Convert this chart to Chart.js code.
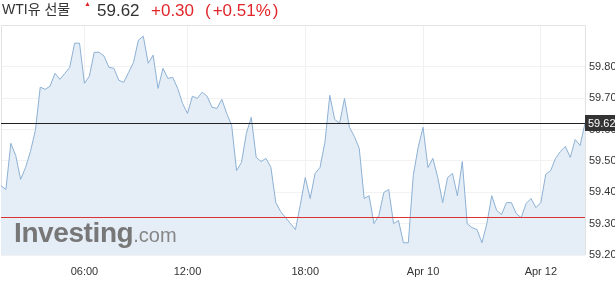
<!DOCTYPE html>
<html><head><meta charset="utf-8">
<script src="https://cdn.jsdelivr.net/npm/chart.js@4.4.1/dist/chart.umd.min.js"></script>
<style>
html,body{margin:0;padding:0;background:#fff;width:615px;height:290px;overflow:hidden;font-family:Arial,"Liberation Sans","Noto Sans CJK KR",sans-serif;}
#wrap{position:relative;width:615px;height:290px;}
#c{position:absolute;left:0;top:0;}
.h{position:absolute;white-space:nowrap;line-height:1;}
#name{left:2px;top:2px;font-size:14px;color:#333;font-family:Arial,"Liberation Sans","Noto Sans CJK KR",sans-serif;}
#mark{left:84px;top:0px;font-size:7px;color:#e0262b;}
#price{left:97px;top:2px;font-size:17px;color:#333;}
#chg{left:151px;top:2px;font-size:17px;color:#e0262b;}
#pct{left:203px;top:2px;font-size:17px;color:#e0262b;}
#pct i{font-style:normal;padding:0 2px;}
#wm{position:absolute;left:14px;top:219px;white-space:nowrap;color:#777;line-height:1;}
#wm b{font-size:28px;font-weight:bold;letter-spacing:-0.4px;}
#wm span{font-size:20px;color:#868686;}
</style>
</head><body>
<div id="wrap">
<canvas id="c" width="615" height="290"></canvas>
<div class="h" id="name">WTI유 선물</div>
<div class="h" id="mark">▲</div>
<div class="h" id="price">59.62</div>
<div class="h" id="chg">+0.30</div>
<div class="h" id="pct"><i>(</i>+0.51%<i>)</i></div>
<div id="wm"><b>Investing</b><span>.com</span></div>
</div>
<script>
const prices = [
59.421,59.409,59.556,59.517,59.441,59.479,59.530,59.597,59.735,59.728,
59.738,59.779,59.760,59.779,59.798,59.875,59.875,59.747,59.770,59.846,
59.846,59.834,59.798,59.795,59.757,59.750,59.782,59.814,59.885,59.897,
59.811,59.837,59.731,59.795,59.763,59.766,59.731,59.683,59.651,59.706,
59.699,59.719,59.706,59.671,59.667,59.696,59.651,59.613,59.469,59.495,
59.588,59.639,59.511,59.498,59.508,59.479,59.367,59.338,59.319,59.300,
59.281,59.361,59.447,59.380,59.460,59.479,59.559,59.709,59.632,59.620,
59.699,59.607,59.578,59.540,59.380,59.389,59.300,59.326,59.399,59.409,
59.300,59.310,59.239,59.239,59.453,59.543,59.607,59.479,59.508,59.447,
59.367,59.447,59.460,59.389,59.498,59.300,59.287,59.281,59.239,59.300,
59.389,59.342,59.329,59.367,59.367,59.332,59.319,59.364,59.380,59.351,
59.367,59.457,59.469,59.508,59.530,59.546,59.511,59.568,59.549,59.620
];
const xTickIndex = [17,38,62,86,110];
const xTickLabels = ['06:00','12:00','18:00','Apr 10','Apr 12'];
const yTickValues = [59.20,59.30,59.40,59.50,59.60,59.70,59.80];
const yMin = 59.20, yMax = 59.933;
const lastPrice = 59.62;
const prevClose = 59.32;

const overlay = {
  id:'overlay',
  beforeDatasetsDraw(chart){
    const {ctx, chartArea:a} = chart;
    ctx.save();
    ctx.strokeStyle='#e2e2e2'; ctx.lineWidth=1;
    ctx.beginPath();
    ctx.moveTo(a.left+0.5,a.bottom); ctx.lineTo(a.left+0.5,a.top+0.5);
    ctx.lineTo(a.right+0.5,a.top+0.5); ctx.lineTo(a.right+0.5,a.bottom);
    ctx.stroke();
    ctx.restore();
  },
  afterDatasetsDraw(chart){
    const {ctx, chartArea:a, scales:{y}} = chart;
    const yr = Math.round(y.getPixelForValue(prevClose));
    const yb = Math.round(y.getPixelForValue(lastPrice));
    ctx.save();
    ctx.fillStyle='#dc3232';
    ctx.fillRect(a.left, yr, a.right-a.left, 1);
    ctx.fillStyle='#222222';
    ctx.fillRect(a.left, yb, a.right-a.left, 1);
    ctx.restore();
  },
  afterDraw(chart){
    const {ctx, chartArea:a, scales:{y}} = chart;
    const yb = y.getPixelForValue(lastPrice);
    ctx.save();
    ctx.fillStyle='#333';
    ctx.fillRect(a.right, Math.round(yb)-8, 615-a.right, 16);
    ctx.fillStyle='#fff';
    ctx.font='11px Arial, "Liberation Sans", sans-serif';
    ctx.textBaseline='middle';
    ctx.fillText(lastPrice.toFixed(2), a.right+3, Math.round(yb)+0.5);
    ctx.restore();
  }
};

new Chart(document.getElementById('c'), {
  type:'line',
  data:{datasets:[{
    data: prices.map((p,i)=>({x:i,y:p})),
    borderColor:'#8db1d4',
    borderWidth:1,
    backgroundColor:'#e5edf6',
    fill:'start',
    pointRadius:0,
    tension:0
  }]},
  options:{
    responsive:false, animation:false, devicePixelRatio:1,
    layout:{padding:{top:25,left:1,right:0,bottom:0}},
    plugins:{legend:{display:false},tooltip:{enabled:false}},
    scales:{
      x:{type:'linear',min:0,max:prices.length-1,
        afterBuildTicks(s){ s.ticks = xTickIndex.map(v=>({value:v})); },
        afterFit(s){ s.height=35; },
        border:{display:false},
        grid:{color:'#f0f0f0',drawTicks:false},
        ticks:{autoSkip:false,maxRotation:0,padding:10,color:'#333',
          font:{family:'Arial, "Liberation Sans", sans-serif',size:11},
          callback(v){ const k=xTickIndex.indexOf(v); return k>=0?xTickLabels[k]:''; }}
      },
      y:{position:'right',min:yMin,max:yMax,
        afterBuildTicks(s){ s.ticks = yTickValues.map(v=>({value:v})); },
        afterFit(s){ s.width=30; },
        border:{display:false},
        grid:{color:'#f2f2f2',drawTicks:false},
        ticks:{padding:4,color:'#333',
          font:{family:'Arial, "Liberation Sans", sans-serif',size:11},
          callback(v){ return Number(v).toFixed(2); }}
      }
    }
  },
  plugins:[overlay]
});
</script>
</body></html>
